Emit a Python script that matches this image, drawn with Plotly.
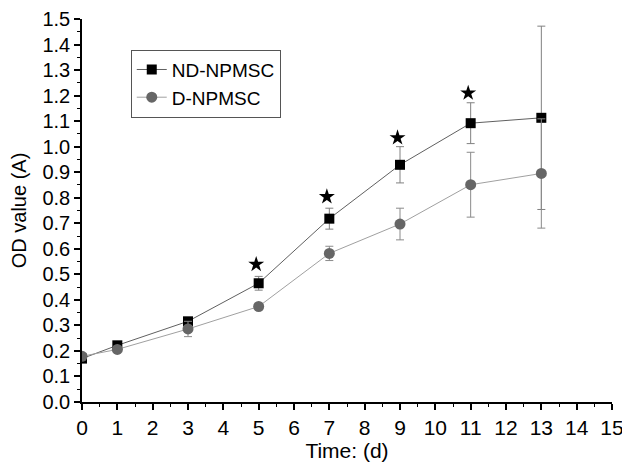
import plotly.graph_objects as go

days = [0, 1, 3, 5, 7, 9, 11, 13]
nd_values = [0.170, 0.222, 0.316, 0.465, 0.718, 0.929, 1.092, 1.113]
nd_errors = [0.008, 0.008, 0.010, 0.027, 0.041, 0.071, 0.080, 0.359]
d_values = [0.179, 0.206, 0.286, 0.374, 0.582, 0.697, 0.851, 0.895]
d_errors = [0.008, 0.008, 0.030, 0.010, 0.028, 0.062, 0.127, 0.214]
star_days = [4.93, 6.93, 8.93, 10.93]
star_values = [0.539, 0.804, 1.035, 1.21]

FONT = "Liberation Sans, Arial, sans-serif"

fig = go.Figure()
fig.add_trace(go.Scatter(
    x=days, y=nd_values, name="ND-NPMSC", mode="lines+markers",
    line=dict(color="#606060", width=1),
    marker=dict(symbol="square", size=10, color="black"),
    error_y=dict(type="data", array=nd_errors, color="#808080", thickness=1, width=4),
))
fig.add_trace(go.Scatter(
    x=days, y=d_values, name="D-NPMSC", mode="lines+markers",
    line=dict(color="#a0a0a0", width=1),
    marker=dict(symbol="circle", size=11, color="#666666"),
    error_y=dict(type="data", array=d_errors, color="#8a8a8a", thickness=1, width=4),
))
fig.add_trace(go.Scatter(
    x=star_days, y=star_values, mode="markers", showlegend=False,
    marker=dict(symbol="star", size=12, color="black"),
))

axis_common = dict(
    showline=True, linecolor="black", linewidth=1.5, showgrid=False, zeroline=False,
    ticks="outside", ticklen=6, tickwidth=1.5, tickcolor="black", automargin=False,
    ticklabeloverflow="allow", mirror=False,
)
fig.update_xaxes(
    range=[0, 15], dtick=1, tick0=0,
    tickfont=dict(family=FONT, size=21, color="black"),
    minor=dict(ticks="outside", dtick=0.5, ticklen=3, tickwidth=1.2, tickcolor="black"),
    title=dict(text="Time: (d)", font=dict(family=FONT, size=21, color="black"), standoff=4),
    **axis_common,
)
fig.update_yaxes(
    range=[0, 1.5], dtick=0.1, tick0=0, tickformat=".1f",
    tickfont=dict(family=FONT, size=20, color="black"),
    minor=dict(ticks="outside", dtick=0.05, ticklen=3, tickwidth=1.2, tickcolor="black"),
    title=dict(text="OD value (A)", font=dict(family=FONT, size=20, color="black"), standoff=16),
    **axis_common,
)
fig.update_layout(
    width=622, height=463,
    margin=dict(l=74, r=18, t=11, b=69),
    plot_bgcolor="white", paper_bgcolor="white",
    legend=dict(
        x=0.092, y=0.92, xanchor="left", yanchor="top",
        bordercolor="#555555", borderwidth=1, bgcolor="white",
        font=dict(family=FONT, size=19, color="black"),
        tracegroupgap=0,
    ),
    font=dict(family=FONT),
)
fig.write_html("out.html")
